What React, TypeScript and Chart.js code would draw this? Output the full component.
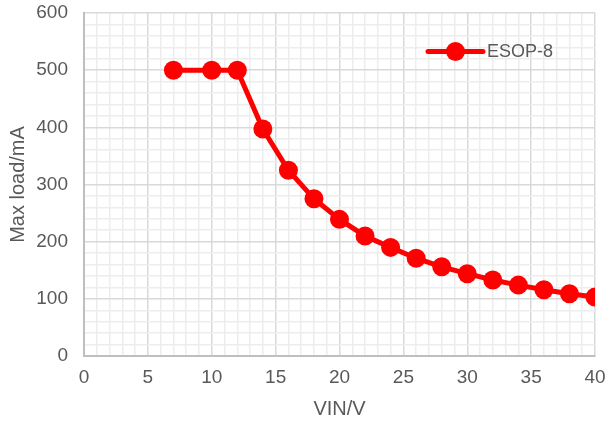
import React, { useEffect, useRef } from "react";
import { Chart, registerables } from "chart.js";

Chart.register(...registerables);

const seriesLabel = "ESOP-8";
const vin = [7, 10, 12, 14, 16, 18, 20, 22, 24, 26, 28, 30, 32, 34, 36, 38, 40];
const maxLoad = [500, 500, 500, 397, 325, 275, 239, 210, 190, 171, 156, 144, 133, 124, 116, 109, 103];
const xTitle = "VIN/V";
const yTitle = "Max load/mA";

const FONT = "'Liberation Sans', Arial, sans-serif";
const TEXT = "#595959";
const RED = "#ff0000";

const legendPlugin = {
  id: "innerLegend",
  afterDatasetsDraw(chart: any) {
    const { ctx, chartArea } = chart;
    const y = chartArea.top + 38.5;
    const x0 = chartArea.right - 167;
    const x1 = chartArea.right - 112;
    ctx.save();
    ctx.strokeStyle = RED;
    ctx.lineWidth = 5;
    ctx.lineCap = "round";
    ctx.beginPath();
    ctx.moveTo(x0, y);
    ctx.lineTo(x1, y);
    ctx.stroke();
    ctx.fillStyle = RED;
    ctx.beginPath();
    ctx.arc((x0 + x1) / 2, y, 9.5, 0, Math.PI * 2);
    ctx.fill();
    ctx.fillStyle = TEXT;
    ctx.font = `18px ${FONT}`;
    ctx.textBaseline = "middle";
    ctx.textAlign = "left";
    ctx.fillText(chart.data.datasets[0].label, x1 + 4, y + 0.5);
    ctx.restore();
  },
};

const yTitlePlugin = {
  id: "yTitle",
  afterDraw(chart: any) {
    const { ctx, chartArea } = chart;
    ctx.save();
    ctx.translate(18, (chartArea.top + chartArea.bottom) / 2);
    ctx.rotate(-Math.PI / 2);
    ctx.fillStyle = TEXT;
    ctx.font = `20px ${FONT}`;
    ctx.textAlign = "center";
    ctx.textBaseline = "middle";
    ctx.fillText(yTitle, 0, 0);
    ctx.restore();
  },
};

function zeroPad(scale: any) {
  scale.paddingTop = 0;
  scale.paddingBottom = 0;
  scale.paddingLeft = 0;
  scale.paddingRight = 0;
}

export default function App() {
  const ref = useRef<HTMLCanvasElement | null>(null);
  useEffect(() => {
    if (!ref.current) return;
    const chart = new Chart(ref.current, {
      type: "line",
      data: {
        datasets: [
          {
            label: seriesLabel,
            data: vin.map((x, i) => ({ x, y: maxLoad[i] })),
            borderColor: RED,
            backgroundColor: RED,
            borderWidth: 5,
            pointRadius: 9.5,
            pointBorderWidth: 0,
            pointBackgroundColor: RED,
            tension: 0,
          },
        ],
      },
      options: {
        animation: false,
        responsive: true,
        maintainAspectRatio: false,
        layout: { padding: { top: 13, right: 11, left: 0, bottom: 0 } },
        plugins: {
          legend: { display: false },
          tooltip: { enabled: false },
        },
        scales: {
          x: {
            type: "linear",
            min: 0,
            max: 40,
            afterFit(scale: any) {
              scale.height = 69;
              zeroPad(scale);
            },
            ticks: {
              stepSize: 1,
              autoSkip: false,
              maxRotation: 0,
              padding: 10,
              color: TEXT,
              font: { family: FONT, size: 19 },
              callback: (v: any) => (Number(v) % 5 === 0 ? String(v) : ""),
            },
            grid: {
              drawTicks: false,
              color: (c: any) => (c.tick && c.tick.value % 5 === 0 ? "#d9d9d9" : "#ededed"),
              lineWidth: 1.5,
            },
            border: { color: "#bfbfbf", width: 2 },
            title: {
              display: true,
              text: xTitle,
              color: TEXT,
              font: { family: FONT, size: 20 },
              padding: { top: 0, bottom: 4 },
            },
          },
          y: {
            type: "linear",
            min: 0,
            max: 600,
            afterFit(scale: any) {
              scale.width = 84;
              zeroPad(scale);
            },
            ticks: {
              stepSize: 20,
              autoSkip: false,
              padding: 16,
              color: TEXT,
              font: { family: FONT, size: 19 },
              callback: (v: any) => (Number(v) % 100 === 0 ? String(v) : ""),
            },
            grid: {
              drawTicks: false,
              color: (c: any) => (c.tick && c.tick.value % 100 === 0 ? "#d9d9d9" : "#ededed"),
              lineWidth: 1.5,
            },
            border: { color: "#bfbfbf", width: 2 },
            title: { display: false },
          },
        },
      },
      plugins: [legendPlugin, yTitlePlugin],
    });
    return () => chart.destroy();
  }, []);
  return (
    <div style={{ position: "fixed", left: 0, top: 0, width: 606, height: 425, background: "#fff" }}>
      <canvas ref={ref} />
    </div>
  );
}
